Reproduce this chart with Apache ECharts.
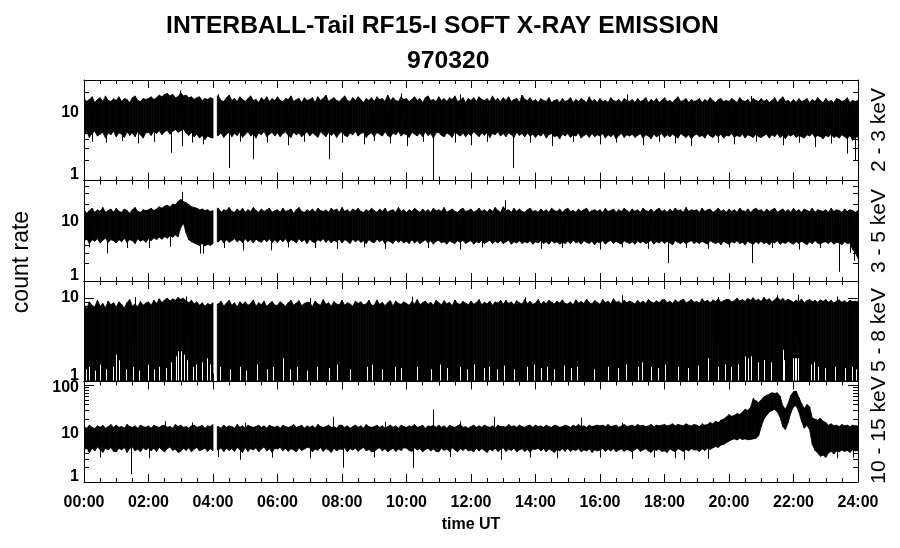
<!DOCTYPE html>
<html><head><meta charset="utf-8">
<script src="https://cdn.jsdelivr.net/npm/echarts@6/dist/echarts.min.js"></script>
<style>html,body{margin:0;padding:0;background:#fff}#c{width:900px;height:548px}</style>
</head><body><div id="c"></div>
<script>
// ---------------- data ----------------
const TITLE = 'INTERBALL-Tail RF15-I SOFT X-RAY EMISSION';
const SUBTITLE = '970320';
const Y_NAME = 'count rate';
const X_NAME = 'time UT';
const bandLabels = ['2 - 3 keV', '3 - 5 keV', '5 - 8 keV', '10 - 15 keV'];
const STEP_MIN = 5;             // sampling of the envelope arrays (minutes)
const dataGaps = [[240, 248]];  // telemetry gap (minutes)
const yMax = [30, 50, 16, 120];
const majorTicks = [[1, 10], [1, 10], [1, 10], [1, 10, 100]];
const minorTicks = [
  [2, 3, 4, 5, 6, 7, 8, 9, 20],
  [2, 3, 4, 5, 6, 7, 8, 9, 20, 30, 40],
  [2, 3, 4, 5, 6, 7, 8, 9],
  [2, 3, 4, 5, 6, 7, 8, 9, 20, 30, 40, 50, 60, 70, 80, 90]
];
const xTickLabels = ['00:00','02:00','04:00','06:00','08:00','10:00','12:00','14:00','16:00','18:00','20:00','22:00','24:00'];

// 2 - 3 keV : upper / lower envelope every 5 min (one row = one hour)
const p1Hi = [
16,14.5,15.5,17,14,15.5,16.5,14.5,17.5,15,14.5,16,
15,17,14.5,16,15.5,14,16.5,17.5,15,14.5,16,15.5,
16,17,15.5,16.5,18,17,18.5,19,17.5,18.5,16.5,17,
19.5,17.5,18,16.5,17,15.5,16.5,17,15,16,15.5,16.5,
16,16,17.5,15,14.5,16.5,18,15,16,14.5,17,15.5,
14.5,16,17.5,15,15.5,14,16.5,15,17,14.5,16,15,
17,15,14.5,16,15.5,17.5,14.5,15.5,16,14,16.5,15,
15.5,16.5,14,17,15,16,18,14.5,15.5,16.5,15,14.5,
16,17.5,15,14.5,16.5,15,17,15.5,14,16,15,16.5,
14.5,17,15.5,16,14.5,18,15,16.5,15,14.5,17,15.5,
16,14.5,15.5,17,15,16,14,16.5,17.5,15,15.5,14.5,
17,15,16,14.5,16.5,15.5,17.5,14.5,15,16.5,14,16,
15,16.5,14.5,17,15.5,15,16,14.5,17.5,15,16,14.5,
16.5,15,17,14.5,15.5,16,14,18,15.5,15,16.5,14.5,
15.5,14,16,15,14.5,16.5,14,15,15.5,14,16,14.5,
15,16.5,14,15.5,14.5,16,15,14,17,14.5,15.5,14,
16,14.5,15,14,16.5,15,14.5,15.5,14,16,15,14.5,
15.5,14,16,14.5,15,16.5,14,15.5,14.5,16,14,15,
16.5,14.5,15,14,15.5,17,14.5,15,16,14,15.5,14.5,
15,16,14,15.5,14.5,16.5,15,14,15.5,16,14.5,15,
14.5,16,15,14,16.5,15,14.5,15.5,14,16,15,14.5,
16,14.5,15.5,14,15,16.5,14,15.5,17,14.5,15,14,
15.5,14,16,14.5,15,16,14,15.5,14.5,16.5,15,14,
16,14.5,15,14,16,15.5,14.5,15,16.5,14,15,14.5,
15];
const p1Lo = [
4.6,5.2,4.3,4.9,5.3,4.5,4.8,5.1,4.2,5,4.7,5.3,
4.4,5,4.8,4.3,5.2,4.6,5,4.4,5.3,4.7,4.2,5,
5.1,4.6,5.3,4.9,5.4,4.7,5.2,5.5,4.8,5.3,5.6,5.1,
5.4,5.7,5,4.6,5.1,4.4,4.8,4.2,4.6,4,4.5,4.3,
4.2,4.5,4.6,5,4.3,4.8,5.1,4.4,4.9,4.6,5.2,4.3,
4.8,5.2,4.5,4.9,4.2,5,4.7,5.3,4.4,4.8,5.1,4.5,
5,4.4,4.9,5.2,4.6,4.3,5.1,4.7,5,4.4,4.8,5.2,
4.5,5,4.7,4.3,5.2,4.8,4.4,5.1,4.6,5,4.3,4.9,
5.2,4.6,4.4,5,4.7,5.3,4.5,4.9,5.1,4.3,4.8,5,
4.4,5.1,4.8,4.5,5.2,4.6,4.3,5,4.7,5.3,4.5,4.9,
4.7,4.3,5.1,4.8,4.5,5,4.4,5.2,4.6,4.9,4.2,5,
5.1,4.6,4.4,5,4.7,4.3,5.2,4.8,4.5,5,4.4,4.9,
4.6,5.2,4.8,4.4,5,4.6,5.1,4.3,4.9,4.7,5.2,4.5,
4.9,4.4,5,4.7,4.3,5.1,4.6,4.9,4.4,5,4.5,4.8,
4.3,4.8,4.5,5,4.2,4.7,4.9,4.4,4.6,4.1,4.8,4.5,
4.9,4.3,4.7,4.5,5,4.2,4.6,4.8,4.3,4.9,4.4,4.7,
4.5,4.9,4.2,4.7,4.4,4.8,4.1,4.6,4.9,4.3,4.7,4.5,
4.8,4.3,4.6,4.9,4.2,4.7,4.5,4.1,4.8,4.4,4.6,4.9,
4.3,4.7,4.4,4.8,4.5,4.2,4.9,4.6,4.3,4.7,4.1,4.6,
4.8,4.4,4.6,4.2,4.9,4.5,4.3,4.7,4.4,4.8,4.2,4.6,
4.5,4.9,4.3,4.6,4.4,4.8,4.2,4.7,4.5,4.3,4.8,4.4,
4.3,4.6,4.8,4.2,4.7,4.4,4.9,4.3,4.6,4.1,4.7,4.5,
4.8,4.3,4.6,4.4,4.2,4.7,4.5,4.9,4.3,4.6,4.4,4.1,
4.6,4.4,4.8,4.3,4.5,4.2,4.7,4.4,4.1,4.6,3.9,4.3,
4.4];
// 3 - 5 keV
const p2Hi = [
16,14,15.5,17,14.5,16,15,17.5,14.5,15.5,16.5,14.5,
17,15,14.5,16.5,15.5,14,16,17.5,15,14.5,16,15.5,
16,17,15.5,16.5,18,17,18.5,19,18,20,19.5,22,
24,22,21,19.5,18,17.5,17,16,16.5,15.5,16,15,
15.5,16,17,14.5,16,15.5,17.5,15,14.5,16.5,15,17,
14.5,16,15,17.5,15.5,14.5,16.5,15,16,17,14.5,15.5,
16,14.5,17,15,15.5,16.5,14,16,17.5,15,14.5,16,
15,16.5,14.5,17,15.5,15,16,14.5,17,15.5,16.5,14.5,
17.5,15,16,14.5,16.5,15.5,17,15,14.5,16,15,17,
15.5,14.5,16.5,15,17,14.5,15.5,16,14.5,17.5,15,16,
14.5,16,15,17,15.5,14.5,16.5,15,16,14.5,17,15.5,
16,15,17.5,14.5,15.5,16.5,15,14.5,16,17,15,15.5,
16.5,14.5,15.5,17,15,16,14.5,16.5,15,17.5,15.5,14.5,
18,15.5,16,14.5,17,15,16.5,15,14.5,16,17,15,
15.5,14.5,16.5,15,16,14.5,17,15.5,15,16.5,14.5,16,
17,15,15.5,14.5,16.5,15,16,17,14.5,15.5,16,15,
16,14.5,17,15,15.5,16.5,14.5,16,15,17,15.5,14.5,
16.5,15,16,14.5,17,15.5,15,16.5,14.5,16,17,15,
16,14.5,16.5,15,17,15.5,16,14.5,17.5,15,16,15.5,
16,14.5,17,15,16,16.5,14.5,15.5,17,15,16,14.5,
16.5,15,16,14.5,17,15.5,15,16.5,14.5,16,17,15.5,
16,14.5,16.5,15,16,17,14.5,15.5,16.5,15,16,14.5,
17,15,16,14.5,16.5,15.5,15,17,14.5,16,15.5,15,
16,14.5,17,15,16,15.5,14.5,16.5,15,16,15.5,14.5,
15.5];
const p2Lo = [
4.6,5.3,4.3,5,4.7,5.2,4.4,4.9,5.3,4.5,5,4.8,
4.4,5,4.6,5.3,4.5,5,4.8,4.3,5.2,4.7,5,4.5,
5.2,4.8,5.4,5,5.5,5.1,5.6,5.3,5.8,5.5,6,5.6,
8,9.5,6.5,5,4.6,4.4,4.2,4,4.3,3.9,4.2,4,
4.3,4.4,4.6,5.1,4.4,5,4.5,4.8,5.2,4.6,5,4.4,
5.2,4.6,5,4.4,5.1,4.7,4.5,5.1,4.6,5.2,4.4,5,
4.5,5.1,4.6,5.2,4.4,5,4.8,4.4,5.2,4.6,5,4.3,
5.1,4.6,4.4,5,4.7,5.2,4.5,5,4.4,4.9,4.6,5.1,
4.4,5,4.7,4.3,5.1,4.6,5,4.5,4.8,4.3,5,4.6,
4.4,5.1,4.6,5,4.3,4.8,4.6,4.3,5,4.5,4.9,4.4,
4.7,4.3,5,4.4,4.8,4.3,4.6,5,4.4,4.8,4.2,4.7,
4.9,4.4,4.6,4.2,4.8,4.5,4.3,4.8,4.5,4.9,4.3,4.6,
4.8,4.2,4.6,4.4,4.9,4.3,4.6,4.9,4.3,4.7,4.4,4.8,
4.3,4.6,4.9,4.2,4.6,4.4,4.8,4.3,4.6,4.4,4.8,4.2,
4.6,4.4,4.8,4.3,4.6,4.2,4.8,4.4,4.6,4.2,4.5,4.3,
4.7,4.3,4.9,4.4,4.6,4.2,4.8,4.5,4.3,4.7,4.1,4.6,
4.4,4.8,4.2,4.6,4.9,4.3,4.7,4.4,4.2,4.8,4.5,4.3,
4.6,4.2,4.8,4.4,4.7,4.3,4.5,4.9,4.2,4.6,4.4,4.8,
4.3,4.7,4.4,4.1,4.8,4.5,4.3,4.7,4.2,4.6,4.8,4.3,
4.6,4.3,4.7,4.4,4.2,4.8,4.5,4.3,4.6,4.1,4.7,4.4,
4.2,4.6,4.4,4.8,4.3,4.5,4.1,4.7,4.4,4.2,4.6,4.3,
4.7,4.3,4.5,4.1,4.6,4.4,4.8,4.2,4.5,4.3,4.7,4.4,
4.2,4.6,4.3,4.7,4.4,4.1,4.6,4.3,4.8,4.4,4.2,4.5,
4.6,4.3,4.7,4.2,4.5,4.4,4.1,4.6,4.3,4.4,3.4,3.0,
2.4];
// 5 - 8 keV (the lower side sits on the floor of the scale)
const p3Hi = [
8.5,7.5,9,8.2,7.8,9.4,8,8.6,7.6,9.2,8.3,8.8,
7.8,9,8.4,7.6,8.8,9.6,8,8.5,7.8,9.1,8.2,8.7,
9,8.2,9.4,8.6,9.8,8.8,9.5,10,9.2,9.8,9.4,10.2,
9.6,10,9.2,8.8,9.4,8.5,9,8.2,8.8,8,8.6,8.3,
8.8,8.8,8.5,9.2,8,8.7,9.4,8.2,8.8,7.8,9,8.4,
9,8.2,8.6,9.5,8,8.8,8.3,9.2,7.9,8.6,9.1,8.2,
8.2,9,8.5,8,8.8,9.4,8.2,8.7,9.3,8.1,8.6,8.9,
8.8,7.9,9.2,8.5,8.2,9.6,8.4,8.8,8,9.1,8.5,8.3,
9.4,8.2,8.8,8.5,8,9.2,8.6,9,8.3,8.5,9.4,8.2,
8.2,9.5,8.4,8.9,8.1,8.8,9.3,8,9.2,8.6,8.4,9,
8.6,8.2,9.1,8.5,9.6,8.3,8.8,9.2,8.4,8.9,8.2,9.4,
8.8,8.3,9.3,8.5,8.9,8.1,9.5,8.6,8.4,9.1,8.7,8.3,
9.2,8.4,8.8,9.6,8.3,8.9,8.5,9.2,8.2,9,8.7,9.4,
8.4,9.4,8.6,9,8.3,9.3,8.8,8.5,9.6,8.6,9.1,8.4,
8.7,9.6,8.4,9.1,8.6,9.4,8.9,8.5,9.2,8.7,9.5,8.6,
8.5,9,8.3,9.5,8.7,9.1,8.6,9.7,8.8,8.5,9.3,8.9,
8.4,9.6,8.8,9.2,8.5,9.8,8.9,9.1,8.6,9.4,8.8,9.2,
8.9,8.5,9.4,8.7,9.2,8.6,9.6,9,8.7,9.3,8.8,9.5,
9.6,8.8,9.2,8.6,9.5,8.9,9.3,9.7,8.8,9.1,9.6,8.9,
9.1,8.7,9.8,9,9.4,8.8,9.5,9.1,9.8,8.9,9.3,9.6,
9.6,9,9.3,10,9.2,9.6,9.1,9.9,9.4,10.1,9.3,9.7,
9.1,10.2,9.4,9.8,9,9.5,10.3,9.4,9.9,9.2,9.7,9.3,
8.9,9.4,9.1,9.7,8.8,9.3,9.6,9,9.4,8.9,9.5,9.1,
9.6,8.9,9.4,8.7,9.2,9.5,8.9,9.3,8.8,9.4,9,9.2,
9];
const p3Floor = 1;
// 10 - 15 keV (flare 19:30 - 22:40)
const p4Hi = [
14,13,15,13.5,12.8,14.5,13.5,15,13,14,15.5,13.5,
15,13.5,14,13,15.5,14,13.5,14.5,13,15,14,13.5,
14.5,13,15,14,13.5,14.5,15,13.5,14,13,15.5,14,
15,13.5,14,13,14.5,15,13.5,14,15,13,14.5,14,
15.5,15.5,14,13,15,13.5,14.5,14,13,15.5,13.5,14.5,
13,15,14,13.5,14,15,13.5,14.5,13,15,14,13.5,
14.5,13,15,14,13.5,14,15.5,13.5,14,15,13,14.5,
13.5,14.5,13,15.5,14,13.5,14,15,13.5,14,13,15,
15,13.5,14.5,13,14,15,13.5,14.5,13,15.5,14,13.5,
14,15,13.5,14.5,13,14,15,13.5,14.5,13,15,14,
13.5,14.5,14,15.5,13.5,14,15,13,14.5,14,15,13.5,
15,13.5,14.5,13,15,14,13.5,14.5,15.5,13.5,14,13,
14,15,13.5,14.5,13.5,15,14,13.5,14.5,13,15,14,
14,13.5,15.5,14,14.5,13.5,15,14,13.5,14.5,15,13.5,
15,14,14.5,13.5,15,14,13.5,15,14.5,13.5,14,15,
14.5,13.5,15,14,15.5,14,14.5,13.5,15,14,14.5,15,
14.5,15,14,15.5,14,14.5,15,13.5,14.5,15.5,14,14.5,
15,14,15.5,14.5,15,14,14.5,15.5,14,15,14.5,15,
15.5,14.5,15,16,14.5,15.5,15,14.5,16,15,14.5,15.5,
15,14,16,15,15.5,17,16,18,17,19,20,22,
25,23,24,26,25,28,32,30,35,52,48,44,
50,58,62,66,70,68,70,60,38,32,42,62,
74,76,56,42,33,40,36,21,20,19,21,18,
17,15,16,14.5,15,14,15.5,14.5,15,14,15,14.5,
14.5];
const p4Lo = [
4.5,5.2,4,5,4.4,5.3,4.7,4.1,5,4.6,5.2,4.3,
4.2,5,4.6,5.2,4.1,4.9,5.3,4.4,4.8,4.2,5.1,4.6,
5.1,4.4,5,4.3,5.2,4.6,4.2,4.9,5.3,4.5,4.8,4.1,
4.3,5,4.5,5.1,4.2,4.8,5.2,4.4,4.7,5,4.3,4.9,
4.4,4.4,4.6,5.1,4.2,5,4.5,4.9,4.3,5.2,4.6,4.1,
5.2,4.3,4.9,4.6,5.1,4.2,4.8,5.3,4.4,4.9,4.1,5,
4.8,5.2,4.4,5,4.3,4.9,4.6,4.2,5.1,4.5,4.8,5.2,
5.1,4.2,4.8,4.5,5.2,4.3,4.9,4.6,4.1,5,4.4,4.8,
4.7,5.1,4.2,4.9,4.6,5,4.3,4.8,5.2,4.4,4.7,4.2,
4.3,4.8,5.1,4.4,4.9,4.2,4.6,5,4.3,4.8,4.5,5.1,
5,4.5,4.3,5.1,4.6,4.9,4.2,4.7,5,4.4,4.8,4.3,
4.2,5,4.5,4.8,4.3,5.1,4.6,4.2,4.9,4.5,5,4.4,
4.6,4.2,5,4.4,4.9,4.5,4.1,4.8,4.4,5,4.3,4.7,
5.1,4.3,4.8,4.5,5,4.2,4.6,4.9,4.3,4.7,4.1,4.8,
4.7,5,4.4,4.9,4.2,4.8,4.5,4.1,4.7,4.4,4.9,4.3,
5,4.3,4.7,4.5,4.9,4.2,4.6,4.4,4.8,4.1,4.6,4.4,
4.6,5,4.3,4.8,4.4,4.9,4.2,4.6,4.8,4.3,4.7,4.5,
4.2,4.7,5,4.3,4.6,4.9,4.4,4.1,4.7,4.5,4.8,4.3,
4.4,4.1,4.8,4.5,4.2,4.9,4.6,4.3,4.7,4.4,4.9,4.6,
4.6,4.3,4.9,4.5,5,4.7,5.1,5.4,5.2,5.8,6,6.5,
7,7.5,7.8,7.4,8,7.6,7.8,7.5,7.6,7.8,8,9,
14,20,24,28,30,32,28,22,14,12,17,27,
36,38,28,18,13,15,12,6,4.5,4,3.4,3.6,
3.2,4,4.3,3.8,4.4,4.2,4.6,4.3,4.5,4.1,4.6,4.4,
4.5];

// isolated spikes [minute, value]
const p1Spikes = [[15,3.7],[40,3.6],[70,3.8],[100,3.5],[130,3.7],[161,2.55],[178,21],[182,3.2],[200,3.6],[222,3.4],[250,18.5],[270,1.52],[290,3.7],[315,2.05],[340,3.6],[380,3.3],[410,3.7],[455,2.05],[480,3.6],[520,3.4],[540,3.8],[570,3.5],[590,19],[600,3.2],[630,3.7],[650,1.02],[690,3.6],[700,18.5],[720,3.3],[750,3.7],[798,1.52],[830,3.6],[870,3.2],[910,3.7],[960,3.4],[990,3.6],[1010,18.5],[1040,3.3],[1070,3.7],[1100,3.5],[1130,3.2],[1180,3.6],[1210,3.4],[1240,17.5],[1250,3.7],[1300,3.3],[1330,3.6],[1360,3.1],[1390,3.5],[1420,2.5],[1435,2.0]];
const p2Spikes = [[10,3.7],[43,2.93],[80,3.6],[120,3.6],[160,3.8],[182,32],[215,2.9],[222,2.9],[260,3.6],[295,3.3],[347,3.3],[380,3.7],[430,3.6],[470,3.5],[520,3.7],[560,3.5],[640,3.6],[700,3.4],[740,3.7],[784,23],[850,3.5],[890,3.6],[960,3.4],[1000,3.7],[1050,3.5],[1087,2.0],[1120,3.6],[1160,3.5],[1200,3.7],[1242,2.0],[1280,3.6],[1330,3.4],[1370,3.6],[1404,1.43],[1425,3.0],[1432,2.2]];
const p3Spikes = [[95,10.3],[190,10.5],[420,10],[610,10.4],[820,10.2],[1000,10.8],[1180,10.3],[1290,10.8],[1329,11],[1400,10.4]];
const p4Spikes = [[30,3.2],[88,1.43],[120,3.1],[150,18],[200,17],[250,3.3],[290,2.9],[300,17],[350,3.2],[420,3.1],[464,22.4],[481,1.97],[540,3.2],[560,17.5],[613,1.97],[649,31.7],[680,3.3],[700,18],[762,22.4],[775,2.9],[830,3.2],[880,3.1],[924,21.3],[960,3.2],[1000,17],[1020,3.0],[1060,3.2],[1100,3.1],[1117,2.9],[1160,3.0],[1244,55],[1400,3.1],[1430,3.2]];
// 5 - 8 keV: places where the rate stayed above the floor [minute, top of white slit]
const p3Slits = [[3,1.4],[9,1.5],[20,1.35],[29,1.6],[41,1.4],[54,1.5],[60,2.1],[65,1.8],[78,1.4],[91,1.5],[102,1.35],[119,1.6],[130,1.4],[140,1.5],[153,1.45],[161,1.7],[171,2.0],[175,2.3],[181,2.3],[186,2.1],[191,1.8],[203,1.5],[209,1.6],[219,1.7],[228,1.9],[234,1.6],[253,1.5],[271,1.4],[290,1.5],[302,1.35],[321,1.6],[340,1.4],[352,1.5],[370,1.9],[383,1.4],[396,1.5],[414,1.35],[433,1.5],[455,1.45],[470,1.6],[495,1.4],[526,1.5],[536,1.6],[554,1.4],[579,1.5],[589,1.45],[620,1.5],[645,1.4],[663,1.6],[676,1.45],[700,1.5],[713,1.4],[725,1.6],[744,1.45],[753,1.5],[769,1.4],[781,1.55],[800,1.4],[825,1.5],[837,1.6],[850,1.45],[862,1.5],[875,1.4],[893,1.55],[906,1.45],[918,1.5],[949,1.4],[974,1.5],[993,1.45],[1008,1.6],[1030,1.5],[1039,1.7],[1055,1.5],[1067,1.45],[1080,1.6],[1105,1.5],[1123,1.45],[1142,1.55],[1160,1.9],[1179,1.5],[1192,1.6],[1204,1.5],[1217,1.6],[1229,2.0],[1236,1.9],[1241,2.0],[1254,1.7],[1266,1.8],[1279,1.7],[1300,2.4],[1303,1.8],[1319,1.9],[1322,1.9],[1325,1.9],[1328,1.9],[1353,1.6],[1359,1.7],[1366,1.5],[1378,1.45],[1397,1.5],[1415,1.45],[1428,1.5],[1437,1.4]];
const spikeBase = [9, 9, 3, 8];

// ---------------- layout / style ----------------
const FONT = '"Liberation Sans", Arial, Helvetica, sans-serif';
const GRID_LEFT = 84, GRID_RIGHT = 42, GRID_TOP = 80, PANEL_H = 100.5;
const rightLabelY = [130, 231, 330, 430];

const panels = [
  {hi: p1Hi, lo: p1Lo, spikes: p1Spikes, slits: []},
  {hi: p2Hi, lo: p2Lo, spikes: p2Spikes, slits: []},
  {hi: p3Hi, lo: p3Floor, spikes: p3Spikes, slits: p3Slits},
  {hi: p4Hi, lo: p4Lo, spikes: p4Spikes, slits: []}
];

function bandItems(lo, hi) {
  const L = i => (Array.isArray(lo) ? lo[i] : lo);
  const items = [];
  for (let i = 0; i < hi.length - 1; i++) {
    let t0 = i * STEP_MIN, t1 = (i + 1) * STEP_MIN;
    let l0 = L(i), h0 = hi[i];
    for (const g of dataGaps) {
      if (t0 < g[1] && t1 > g[0]) { t0 = g[1]; l0 = L(i + 1); h0 = hi[i + 1]; }
    }
    if (t0 >= t1) continue;
    items.push([t0, t1, l0, h0, L(i + 1), hi[i + 1]]);
  }
  return items;
}

const grids = [], xAxes = [], yAxes = [], series = [];
const blackLine = {color: '#000', width: 1};
const labelFont = {color: '#000', fontFamily: FONT, fontWeight: 'bold', fontSize: 16};
panels.forEach((p, k) => {
  grids.push({left: GRID_LEFT, right: GRID_RIGHT, top: GRID_TOP + k * PANEL_H, height: PANEL_H});
  ['bottom', 'top'].forEach(pos => {
    xAxes.push({
      gridIndex: k, type: 'value', position: pos, min: 0, max: 1440, interval: 120,
      axisLine: {show: true, onZero: false, lineStyle: blackLine},
      axisTick: {show: true, inside: true, length: 8, lineStyle: blackLine},
      minorTick: {show: true, splitNumber: 4, length: 4, lineStyle: blackLine},
      splitLine: {show: false}, minorSplitLine: {show: false},
      axisLabel: Object.assign({show: k === 3 && pos === 'bottom', margin: 13,
        formatter: v => xTickLabels[Math.round(v / 120)]}, labelFont),
      name: (k === 3 && pos === 'bottom') ? X_NAME : '', nameLocation: 'middle', nameGap: 35,
      nameTextStyle: labelFont
    });
  });
  ['left', 'right'].forEach(pos => {
    [true, false].forEach(major => {
      yAxes.push({
        gridIndex: k, type: 'log', logBase: 10, min: 1, max: yMax[k], position: pos,
        axisLine: {show: major, onZero: false, lineStyle: blackLine},
        axisTick: {show: true, inside: true, length: major ? 10 : 5, lineStyle: blackLine,
          customValues: major ? majorTicks[k] : minorTicks[k]},
        axisLabel: Object.assign({show: major && pos === 'left', customValues: majorTicks[k], margin: 5,
          formatter: v => {
            const n = Math.round(v);
            return n === 1 ? '{lo|1}' : (n === 100 ? '{hi|100}' : String(n));
          },
          rich: {
            lo: Object.assign({padding: [0, 0, 11, 0]}, labelFont),
            hi: Object.assign({padding: [4, 0, 0, 0]}, labelFont)
          }}, labelFont),
        splitLine: {show: false}
      });
    });
  });
  const yIdx = k * 4, xIdx = k * 2;
  series.push({
    type: 'custom', xAxisIndex: xIdx, yAxisIndex: yIdx, clip: true, silent: true, z: 2,
    data: bandItems(p.lo, p.hi), encode: {x: [0, 1], y: [2, 3, 4, 5]},
    renderItem: (params, api) => {
      const a = api.coord([api.value(0), api.value(3)]);
      const b = api.coord([api.value(1), api.value(5)]);
      const c = api.coord([api.value(1), api.value(4)]);
      const d = api.coord([api.value(0), api.value(2)]);
      return {type: 'polygon', shape: {points: [a, b, c, d]},
        style: {fill: '#000', stroke: '#000', lineWidth: 0.8}};
    }
  });
  series.push({
    type: 'custom', xAxisIndex: xIdx, yAxisIndex: yIdx, clip: true, silent: true, z: 3,
    data: p.spikes.map(s => [s[0], spikeBase[k], s[1]]), encode: {x: 0, y: [1, 2]},
    renderItem: (params, api) => {
      const a = api.coord([api.value(0), api.value(1)]);
      const b = api.coord([api.value(0), api.value(2)]);
      const x = Math.round(a[0]) + 0.5;
      return {type: 'line', shape: {x1: x, y1: a[1], x2: x, y2: b[1]},
        style: {stroke: '#000', lineWidth: 1}};
    }
  });
  if (p.slits.length) {
    series.push({
      type: 'custom', xAxisIndex: xIdx, yAxisIndex: yIdx, clip: true, silent: true, z: 4,
      data: p.slits.map(s => [s[0], 1, s[1]]), encode: {x: 0, y: [1, 2]},
      renderItem: (params, api) => {
        const a = api.coord([api.value(0), api.value(1)]);
        const b = api.coord([api.value(0), api.value(2)]);
        const x = Math.round(a[0]) + 0.5;
        return {type: 'line', shape: {x1: x, y1: a[1] - 1, x2: x, y2: b[1]},
          style: {stroke: '#fff', lineWidth: 1}};
      }
    });
  }
});

const txt = (x, y, text, font, rot) => ({
  type: 'text', x: x, y: y, rotation: rot || 0, silent: true, z: 10,
  style: {text: text, font: font, fill: '#000', align: 'center', verticalAlign: 'middle',
    textAlign: 'center', textVerticalAlign: 'middle'}
});
const graphic = [
  txt(442.5, 26, TITLE, 'bold 24.7px ' + FONT),
  txt(448.3, 61, SUBTITLE, 'bold 24.7px ' + FONT),
  txt(22, 262, Y_NAME, '23px ' + FONT, Math.PI / 2)
];
bandLabels.forEach((s, k) => {
  graphic.push(txt(879, rightLabelY[k], s, '21px ' + FONT, Math.PI / 2));
});

const chart = echarts.init(document.getElementById('c'), null, {renderer: 'canvas'});
chart.setOption({
  animation: false,
  backgroundColor: '#fff',
  grid: grids, xAxis: xAxes, yAxis: yAxes, series: series, graphic: graphic
});
</script></body></html>
